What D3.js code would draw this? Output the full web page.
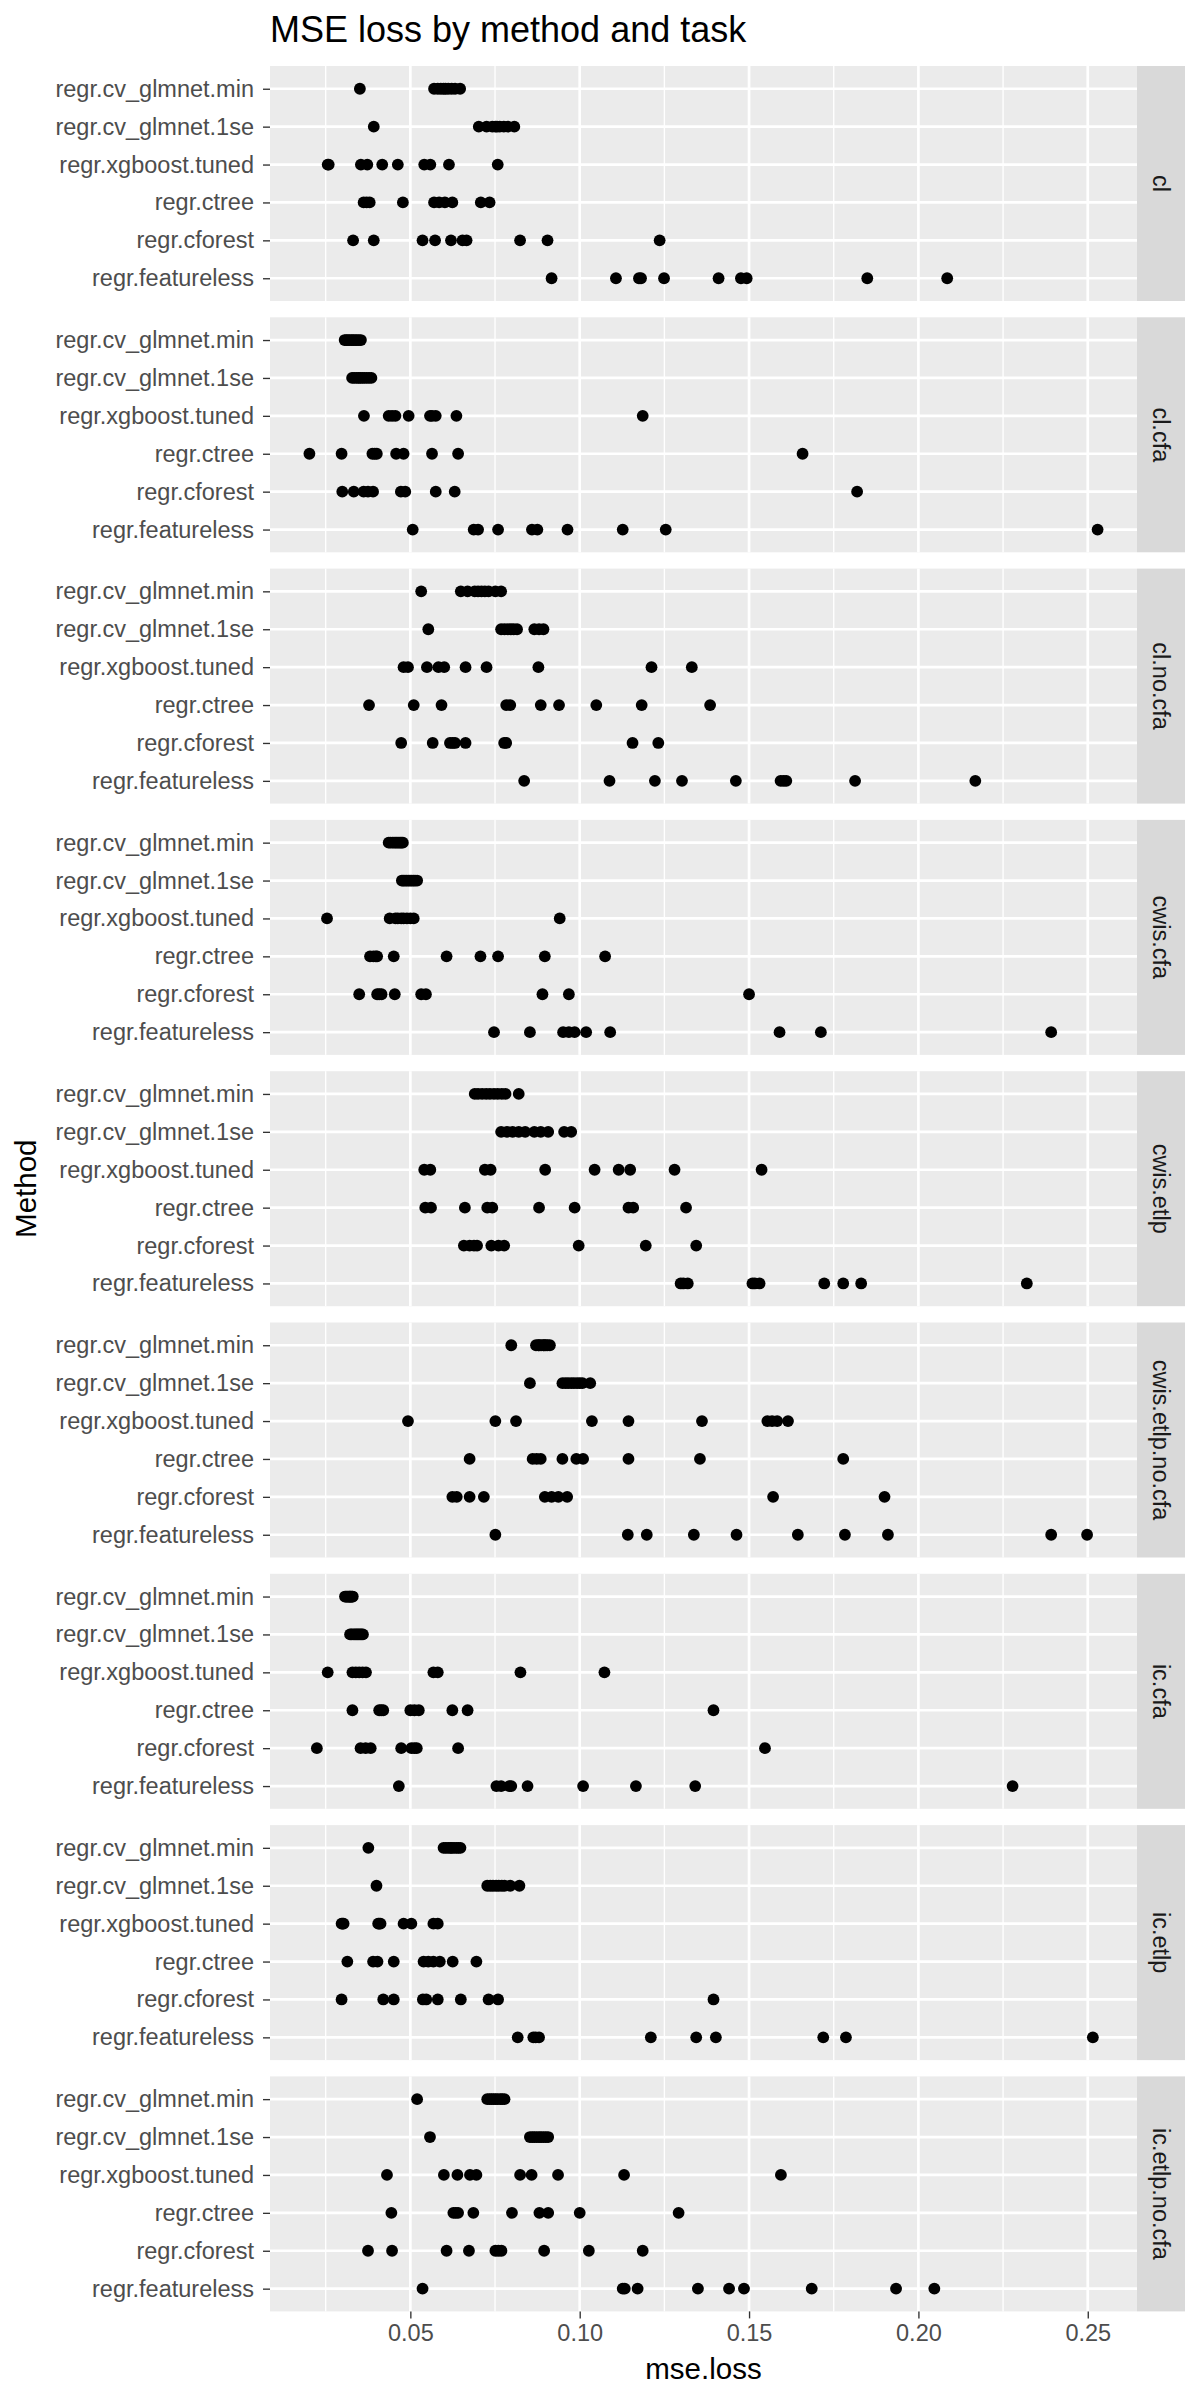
<!DOCTYPE html>
<html>
<head>
<meta charset="utf-8">
<script src="https://cdn.jsdelivr.net/npm/d3@7"></script>
<style>
  html, body { margin: 0; padding: 0; background: #fff; }
  svg { display: block; font-family: "Liberation Sans", Arial, Helvetica, sans-serif; }
</style>
</head>
<body>
<svg id="chart" width="1200" height="2400"></svg>
<script>
// ---------- data ----------
const tasks = ["cl", "cl.cfa", "cl.no.cfa", "cwis.cfa", "cwis.etlp", "cwis.etlp.no.cfa", "ic.cfa", "ic.etlp", "ic.etlp.no.cfa"];
const methods = ["regr.cv_glmnet.min", "regr.cv_glmnet.1se", "regr.xgboost.tuned", "regr.ctree", "regr.cforest", "regr.featureless"];
const xTicks = [0.05, 0.10, 0.15, 0.20, 0.25];
const xTickLabels = ["0.05", "0.10", "0.15", "0.20", "0.25"];
const xMinorTicks = [0.025, 0.075, 0.125, 0.175, 0.225];

// one array per task; rows follow `methods` order
const cl = [
  [0.0351, 0.0570, 0.0581, 0.0590, 0.0598, 0.0604, 0.0612, 0.0622, 0.0632, 0.0647],
  [0.0392, 0.0702, 0.0725, 0.0742, 0.0751, 0.0756, 0.0764, 0.0776, 0.0788, 0.0807],
  [0.0256, 0.0259, 0.0354, 0.0373, 0.0417, 0.0463, 0.0541, 0.0559, 0.0614, 0.0758],
  [0.0362, 0.0371, 0.0380, 0.0478, 0.0570, 0.0585, 0.0602, 0.0624, 0.0708, 0.0734],
  [0.0331, 0.0392, 0.0536, 0.0573, 0.0620, 0.0654, 0.0666, 0.0824, 0.0905, 0.1236],
  [0.0917, 0.1107, 0.1175, 0.1181, 0.1249, 0.1410, 0.1476, 0.1493, 0.1849, 0.2085]
];
const cl_cfa = [
  [0.0306, 0.0311, 0.0316, 0.0321, 0.0327, 0.0331, 0.0337, 0.0342, 0.0348, 0.0354],
  [0.0328, 0.0334, 0.0341, 0.0347, 0.0352, 0.0358, 0.0364, 0.0371, 0.0378, 0.0385],
  [0.0363, 0.0436, 0.0446, 0.0456, 0.0495, 0.0558, 0.0564, 0.0575, 0.0636, 0.1186],
  [0.0202, 0.0297, 0.0388, 0.0395, 0.0401, 0.0458, 0.0480, 0.0564, 0.0641, 0.1658],
  [0.0299, 0.0333, 0.0362, 0.0375, 0.0390, 0.0472, 0.0485, 0.0575, 0.0631, 0.1819],
  [0.0507, 0.0687, 0.0700, 0.0759, 0.0859, 0.0875, 0.0964, 0.1127, 0.1254, 0.2529]
];
const cl_no_cfa = [
  [0.0532, 0.0649, 0.0669, 0.0690, 0.0700, 0.0710, 0.0720, 0.0731, 0.0751, 0.0768],
  [0.0553, 0.0768, 0.0778, 0.0788, 0.0797, 0.0805, 0.0815, 0.0866, 0.0880, 0.0893],
  [0.0480, 0.0493, 0.0549, 0.0583, 0.0600, 0.0663, 0.0725, 0.0878, 0.1212, 0.1331],
  [0.0378, 0.0510, 0.0592, 0.0783, 0.0795, 0.0885, 0.0939, 0.1049, 0.1183, 0.1385],
  [0.0473, 0.0566, 0.0617, 0.0625, 0.0632, 0.0663, 0.0777, 0.0783, 0.1156, 0.1232],
  [0.0836, 0.1088, 0.1222, 0.1302, 0.1461, 0.1593, 0.1602, 0.1610, 0.1813, 0.2168]
];
const cwis_cfa = [
  [0.0436, 0.0441, 0.0447, 0.0452, 0.0457, 0.0461, 0.0466, 0.0470, 0.0474, 0.0478],
  [0.0475, 0.0479, 0.0484, 0.0489, 0.0494, 0.0499, 0.0504, 0.0509, 0.0514, 0.0520],
  [0.0254, 0.0439, 0.0456, 0.0463, 0.0473, 0.0480, 0.0490, 0.0500, 0.0510, 0.0941],
  [0.0381, 0.0391, 0.0398, 0.0402, 0.0451, 0.0607, 0.0707, 0.0759, 0.0897, 0.1075],
  [0.0349, 0.0402, 0.0408, 0.0415, 0.0454, 0.0532, 0.0546, 0.0890, 0.0968, 0.1500],
  [0.0747, 0.0853, 0.0951, 0.0968, 0.0985, 0.1019, 0.1090, 0.1590, 0.1712, 0.2392]
];
const cwis_etlp = [
  [0.0690, 0.0700, 0.0712, 0.0724, 0.0735, 0.0747, 0.0758, 0.0770, 0.0781, 0.0820],
  [0.0768, 0.0785, 0.0802, 0.0820, 0.0839, 0.0866, 0.0885, 0.0907, 0.0954, 0.0975],
  [0.0541, 0.0559, 0.0720, 0.0737, 0.0898, 0.1044, 0.1115, 0.1149, 0.1280, 0.1537],
  [0.0544, 0.0561, 0.0661, 0.0727, 0.0742, 0.0880, 0.0985, 0.1144, 0.1158, 0.1314],
  [0.0658, 0.0675, 0.0688, 0.0697, 0.0739, 0.0760, 0.0777, 0.0997, 0.1195, 0.1344],
  [0.1298, 0.1306, 0.1319, 0.1510, 0.1517, 0.1531, 0.1722, 0.1778, 0.1831, 0.2320]
];
const cwis_etlp_no_cfa = [
  [0.0798, 0.0871, 0.0878, 0.0880, 0.0886, 0.0893, 0.0895, 0.0900, 0.0905, 0.0912],
  [0.0853, 0.0949, 0.0958, 0.0966, 0.0975, 0.0983, 0.0992, 0.1000, 0.1008, 0.1031],
  [0.0493, 0.0751, 0.0812, 0.1036, 0.1144, 0.1361, 0.1554, 0.1568, 0.1583, 0.1615],
  [0.0675, 0.0861, 0.0873, 0.0885, 0.0949, 0.0990, 0.1010, 0.1144, 0.1355, 0.1778],
  [0.0624, 0.0637, 0.0675, 0.0717, 0.0897, 0.0917, 0.0937, 0.0963, 0.1571, 0.1900],
  [0.0751, 0.1142, 0.1198, 0.1337, 0.1463, 0.1644, 0.1783, 0.1910, 0.2392, 0.2498]
];
const ic_cfa = [
  [0.0307, 0.0310, 0.0313, 0.0316, 0.0319, 0.0321, 0.0323, 0.0325, 0.0328, 0.0330],
  [0.0322, 0.0326, 0.0331, 0.0336, 0.0340, 0.0344, 0.0348, 0.0352, 0.0356, 0.0360],
  [0.0256, 0.0329, 0.0339, 0.0349, 0.0359, 0.0369, 0.0568, 0.0581, 0.0825, 0.1073],
  [0.0329, 0.0408, 0.0414, 0.0420, 0.0500, 0.0512, 0.0525, 0.0624, 0.0669, 0.1395],
  [0.0224, 0.0353, 0.0368, 0.0383, 0.0473, 0.0503, 0.0512, 0.0519, 0.0641, 0.1547],
  [0.0466, 0.0754, 0.0768, 0.0792, 0.0798, 0.0846, 0.1010, 0.1166, 0.1341, 0.2278]
];
const ic_etlp = [
  [0.0376, 0.0598, 0.0605, 0.0612, 0.0619, 0.0622, 0.0629, 0.0636, 0.0642, 0.0648],
  [0.0400, 0.0727, 0.0736, 0.0744, 0.0753, 0.0761, 0.0770, 0.0778, 0.0795, 0.0822],
  [0.0297, 0.0300, 0.0303, 0.0405, 0.0408, 0.0412, 0.0480, 0.0503, 0.0568, 0.0581],
  [0.0314, 0.0390, 0.0403, 0.0451, 0.0539, 0.0553, 0.0568, 0.0587, 0.0625, 0.0695],
  [0.0297, 0.0420, 0.0451, 0.0537, 0.0547, 0.0581, 0.0649, 0.0731, 0.0759, 0.1395],
  [0.0817, 0.0863, 0.0870, 0.0880, 0.1210, 0.1344, 0.1402, 0.1719, 0.1786, 0.2515]
];
const ic_etlp_no_cfa = [
  [0.0520, 0.0727, 0.0734, 0.0740, 0.0746, 0.0752, 0.0758, 0.0766, 0.0771, 0.0778],
  [0.0558, 0.0853, 0.0860, 0.0866, 0.0873, 0.0880, 0.0886, 0.0893, 0.0900, 0.0907],
  [0.0431, 0.0599, 0.0639, 0.0676, 0.0695, 0.0824, 0.0858, 0.0936, 0.1131, 0.1594],
  [0.0444, 0.0627, 0.0634, 0.0641, 0.0686, 0.0800, 0.0881, 0.0907, 0.1000, 0.1292],
  [0.0375, 0.0446, 0.0607, 0.0673, 0.0751, 0.0760, 0.0769, 0.0895, 0.1027, 0.1186],
  [0.0536, 0.1127, 0.1133, 0.1171, 0.1349, 0.1441, 0.1485, 0.1685, 0.1934, 0.2047]
];
const taskValues = [cl, cl_cfa, cl_no_cfa, cwis_cfa, cwis_etlp, cwis_etlp_no_cfa, ic_cfa, ic_etlp, ic_etlp_no_cfa];

// ---------- layout ----------
const W = 1200, H = 2400;
const panelLeft = 270, panelRight = 1137, stripW = 48;
const panelTop0 = 66, panelH = 235, panelGap = 16.3;
const font = '"Liberation Sans", Arial, Helvetica, sans-serif';

const svg = d3.select("#chart");
svg.append("rect").attr("width", W).attr("height", H).attr("fill", "#fff");

// flatten data
const points = [];
tasks.forEach((t, ti) => {
  taskValues[ti].forEach((row, mi) => {
    row.forEach(v => points.push({ task: t, method: methods[mi], value: v }));
  });
});

// x scale with ggplot-style 5% expansion
const ext = d3.extent(points, d => d.value);
const pad = (ext[1] - ext[0]) * 0.05;
const x = d3.scaleLinear().domain([ext[0] - pad, ext[1] + pad]).range([panelLeft, panelRight]);

const y = d3.scalePoint().domain(methods).range([0, panelH]).padding(0.6);
const panelY = d3.scaleBand().domain(tasks).range([panelTop0, panelTop0 + tasks.length * panelH + (tasks.length - 1) * panelGap]).paddingInner(panelGap / (panelH + panelGap)).paddingOuter(0);

// title
svg.append("text")
  .attr("x", panelLeft).attr("y", 42)
  .attr("font-family", font).attr("font-size", 36).attr("fill", "#000")
  .text("MSE loss by method and task");

tasks.forEach((t, ti) => {
  const top = panelY(t);
  const g = svg.append("g").attr("transform", `translate(0,${top})`);
  g.append("rect").attr("x", panelLeft).attr("y", 0).attr("width", panelRight - panelLeft).attr("height", panelH).attr("fill", "#EBEBEB");
  g.selectAll("line.minor").data(xMinorTicks).enter().append("line")
    .attr("x1", d => x(d)).attr("x2", d => x(d)).attr("y1", 0).attr("y2", panelH)
    .attr("stroke", "#fff").attr("stroke-width", 1.35);
  g.selectAll("line.majorx").data(xTicks).enter().append("line")
    .attr("x1", d => x(d)).attr("x2", d => x(d)).attr("y1", 0).attr("y2", panelH)
    .attr("stroke", "#fff").attr("stroke-width", 2.7);
  g.selectAll("line.majory").data(methods).enter().append("line")
    .attr("x1", panelLeft).attr("x2", panelRight).attr("y1", d => y(d)).attr("y2", d => y(d))
    .attr("stroke", "#fff").attr("stroke-width", 2.7);
  const yAxis = d3.axisLeft(y).tickSize(7).tickPadding(9);
  const ya = g.append("g").attr("transform", `translate(${panelLeft},0)`).call(yAxis);
  ya.select(".domain").remove();
  ya.selectAll(".tick line").attr("stroke", "#333333").attr("stroke-width", 1.35);
  ya.selectAll(".tick text").attr("font-family", font).attr("font-size", 23.5).attr("fill", "#4D4D4D");
  g.selectAll("circle").data(points.filter(p => p.task === t)).enter().append("circle")
    .attr("cx", d => x(d.value)).attr("cy", d => y(d.method)).attr("r", 5.9).attr("fill", "#000");
  g.append("rect").attr("x", panelRight).attr("y", 0).attr("width", stripW).attr("height", panelH).attr("fill", "#D9D9D9");
  g.append("text")
    .attr("transform", `translate(${panelRight + stripW / 2},${panelH / 2}) rotate(90)`)
    .attr("text-anchor", "middle").attr("dominant-baseline", "central")
    .attr("font-family", font).attr("font-size", 23.5).attr("fill", "#1A1A1A")
    .text(t);
});

// x axis (bottom)
const bottom = panelY(tasks[tasks.length - 1]) + panelH;
const xAxis = d3.axisBottom(x).tickValues(xTicks).tickFormat((d, i) => xTickLabels[i]).tickSize(7).tickPadding(6);
const xa = svg.append("g").attr("transform", `translate(0,${bottom})`).call(xAxis);
xa.select(".domain").remove();
xa.selectAll(".tick line").attr("stroke", "#333333").attr("stroke-width", 1.35);
xa.selectAll(".tick text").attr("font-family", font).attr("font-size", 23.5).attr("fill", "#4D4D4D");

svg.append("text")
  .attr("x", (panelLeft + panelRight) / 2).attr("y", bottom + 68)
  .attr("text-anchor", "middle")
  .attr("font-family", font).attr("font-size", 29.5).attr("fill", "#000")
  .text("mse.loss");
svg.append("text")
  .attr("transform", `translate(36,${(panelTop0 + bottom) / 2}) rotate(-90)`)
  .attr("text-anchor", "middle")
  .attr("font-family", font).attr("font-size", 29.5).attr("fill", "#000")
  .text("Method");
</script>
</body>
</html>
